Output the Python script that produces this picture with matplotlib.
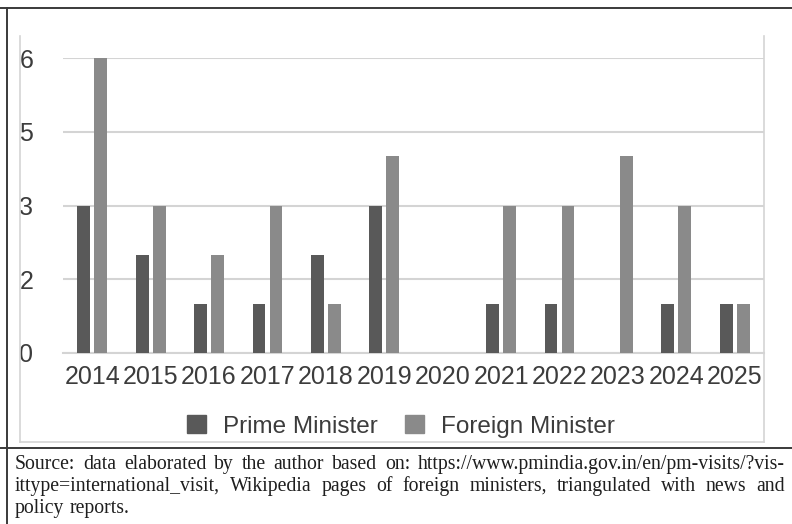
import numpy as np
import matplotlib
matplotlib.use("Agg")
import matplotlib.pyplot as plt
from matplotlib.lines import Line2D
from matplotlib.patches import Patch

W, H = 792, 524

years = ["2014", "2015", "2016", "2017", "2018", "2019",
         "2020", "2021", "2022", "2023", "2024", "2025"]
prime_minister = [3, 2, 1, 1, 2, 3, 0, 1, 1, 0, 1, 1]
foreign_minister = [6, 3, 2, 3, 1, 4, 0, 3, 3, 4, 3, 1]
y_ticks = [0, 1.5, 3, 4.5, 6]

caption_lines = [
    "Source: data elaborated by the author based on: https://www.pmindia.gov.in/en/pm-visits/?vis-",
    "ittype=international_visit, Wikipedia pages of foreign ministers, triangulated with news and",
    "policy reports.",
]

PM_COLOR = "#595959"
FM_COLOR = "#8a8a8a"
GRID = "#d4d4d4"
TXT = "#3c3c3c"
CAP_FONT = "Liberation Serif"
CAP_SIZE = 14.2


def fx(px):
    return px / W


def fy(py):
    return 1 - py / H


def fig_line(fig, x0, y0, x1, y1, color, lw):
    fig.add_artist(Line2D([fx(x0), fx(x1)], [fy(y0), fy(y1)],
                          color=color, lw=lw, transform=fig.transFigure))


def text_width(fig, renderer, s):
    t = fig.text(0, 0, s, fontsize=CAP_SIZE, family=CAP_FONT)
    w = t.get_window_extent(renderer).width
    t.remove()
    return w


def justify(fig, text, x0, x1, ybase, full=True):
    # lay the words out one by one so the line fills the column (justified)
    renderer = fig.canvas.get_renderer()
    words = text.split(" ")
    arts = [fig.text(0, fy(ybase), w, fontsize=CAP_SIZE, family=CAP_FONT,
                     color="#1e1e1e", va="baseline") for w in words]
    widths = [a.get_window_extent(renderer).width for a in arts]
    sp = text_width(fig, renderer, "a a") - text_width(fig, renderer, "aa")
    if full and len(words) > 1:
        sp = (x1 - x0 - sum(widths)) / (len(words) - 1)
    x = x0
    for a, w in zip(arts, widths):
        a.set_x(fx(x))
        x += w + sp


fig = plt.figure(figsize=(W / 100, H / 100), dpi=100)
ax = fig.add_axes([fx(63), fy(353), fx(764) - fx(63), fy(58) - fy(353)])

x = np.arange(len(years))
ax.bar(x - 0.145, prime_minister, width=0.22, color=PM_COLOR, zorder=3)
ax.bar(x + 0.145, foreign_minister, width=0.22, color=FM_COLOR, zorder=3)

ax.set_xlim(-0.5, len(years) - 0.5)
ax.set_ylim(0, 6)
ax.set_yticks(y_ticks)
ax.set_yticklabels([str(int(v + 0.5)) for v in y_ticks])
ax.set_xticks(x)
ax.set_xticklabels(years)
ax.grid(axis="y", color=GRID, lw=1.5, zorder=0)
for s in ["left", "right", "top"]:
    ax.spines[s].set_visible(False)
ax.spines["bottom"].set_color(GRID)
ax.spines["bottom"].set_linewidth(1.5)
ax.tick_params(length=0, labelsize=18, labelcolor=TXT)
ax.tick_params(axis="y", pad=21.5)
ax.tick_params(axis="x", pad=9)
for lbl in ax.get_xticklabels() + ax.get_yticklabels():
    lbl.set_family("Liberation Sans")

handles = [Patch(color=PM_COLOR, label="Prime Minister"),
           Patch(color=FM_COLOR, label="Foreign Minister")]
leg = fig.legend(handles=handles, loc="center", ncol=2,
                 bbox_to_anchor=(fx(401), fy(426.5)), frameon=False,
                 prop={"family": "Liberation Sans", "size": 17.5},
                 handlelength=0.78, handleheight=0.78, handletextpad=0.7,
                 columnspacing=1.1, borderaxespad=0)
for t in leg.get_texts():
    t.set_color(TXT)

# light inner frame
fig_line(fig, 20, 36, 20, 442, GRID, 1.2)
fig_line(fig, 764, 36, 764, 442, GRID, 1.2)
fig_line(fig, 20, 442, 764, 442, GRID, 1.2)

# dark outer rules
fig_line(fig, 0, 8, W, 8, "#3a3a3a", 1.4)
fig_line(fig, 7, 8, 7, H, "#3a3a3a", 1.4)
fig_line(fig, 0, 448, W, 448, "#3a3a3a", 1.4)

fig.canvas.draw()
justify(fig, caption_lines[0], 15, 785, 469)
justify(fig, caption_lines[1], 15, 785, 491)
justify(fig, caption_lines[2], 15, 785, 513.5, full=False)

fig.savefig("out.png", dpi=100)
